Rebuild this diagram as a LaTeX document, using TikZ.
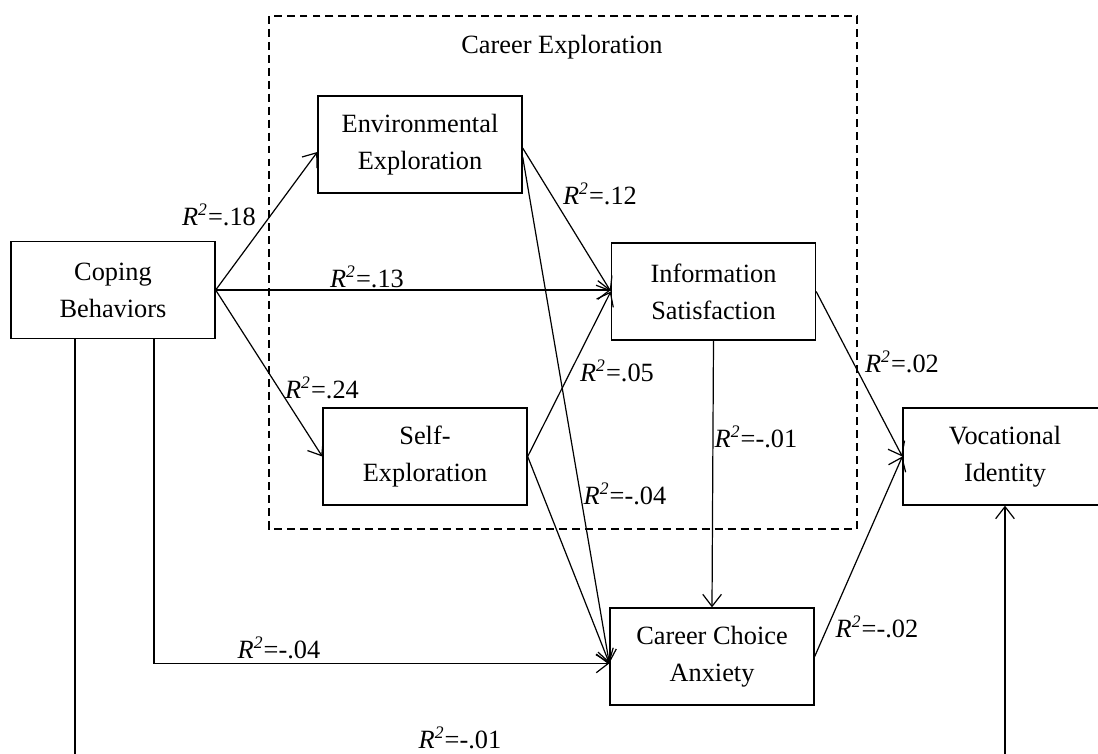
\documentclass[tikz,border=0pt]{standalone}
\usepackage{fontspec}
\setmainfont{Liberation Serif}
\usetikzlibrary{arrows.meta}
\newcommand{\rsq}[1]{\textit{R}\textsuperscript{\textit{2}}=#1}

\begin{document}
\begin{tikzpicture}[x=0.016cm,y=-0.016cm,
    >={Straight Barb[length=5.5pt,width=8.5pt]},
    var/.style={draw,line width=0.65pt,minimum width=3.264cm,minimum height=1.55cm,
      inner sep=0pt,align=center,font=\fontsize{12}{16.8}\selectfont},
    link/.style={->,line width=0.55pt},
    coef/.style={inner sep=0pt,font=\fontsize{12}{14}\selectfont}]
      \useasboundingbox (0,0) rectangle (1098,753);
      \clip (0,0) rectangle (1098,753);
      % career exploration frame
      \draw [dash pattern=on 3.6pt off 2.3pt,line width=0.55pt] (269,16) rectangle (857,529);
      \node [coef] (CE) at (562,47) {Career Exploration};
      % variables
      \node [var] (CB) at (113,290) {Coping\\Behaviors};
      \node [var] (EE) at (420,144.5) {Environmental\\Exploration};
      \node [var] (SE) at (425,456.5) {Self-\\Exploration};
      \node [var] (IS) at (713.5,291.5) {Information\\Satisfaction};
      \node [var] (CCA) at (712,656.5) {Career Choice\\Anxiety};
      \node [var] (VI) at (1005,456.5) {Vocational\\Identity};
      \coordinate (CCAin) at ([yshift=-0.11cm]CCA.west);
      %
      \draw [link] (CB.east) -- ([yshift=-0.12cm]EE.west);
      \draw [link] (CB.east) -- (CB.east -| IS.west);
      \draw [link] (CB.east) -- (SE.west);
      \draw [link] ([yshift=-0.056cm]EE.east) -- (IS.west);
      \draw [link] ([yshift=-0.2cm]EE.east) -- (CCAin);
      \draw [link] (SE.east) -- (IS.west);
      \draw [link] (SE.east) -- (CCAin);
      \draw [link] (IS.south) -- (CCA.north);
      \draw [link] (IS.east) -- (VI.west);
      \draw [link] (CCA.east) -- (VI.west);
      \draw [link] ([xshift=0.656cm]CB.south) |- (CCAin);
      \draw [link] ([xshift=-0.608cm]CB.south) -- ++(0,432) -| (VI.south);
      % coefficients
      \node [coef] at (219,215) {\rsq{.18}};
      \node [coef] at (367,277) {\rsq{.13}};
      \node [coef] at (322,388) {\rsq{.24}};
      \node [coef] at (600,194) {\rsq{.12}};
      \node [coef] at (617,371) {\rsq{.05}};
      \node [coef] at (756,437) {\rsq{-.01}};
      \node [coef] at (625,494) {\rsq{-.04}};
      \node [coef] at (902,362) {\rsq{.02}};
      \node [coef] at (877,627) {\rsq{-.02}};
      \node [coef] at (279,648) {\rsq{-.04}};
      \node [coef] at (460,738) {\rsq{-.01}};
    \end{tikzpicture}
\end{document}
